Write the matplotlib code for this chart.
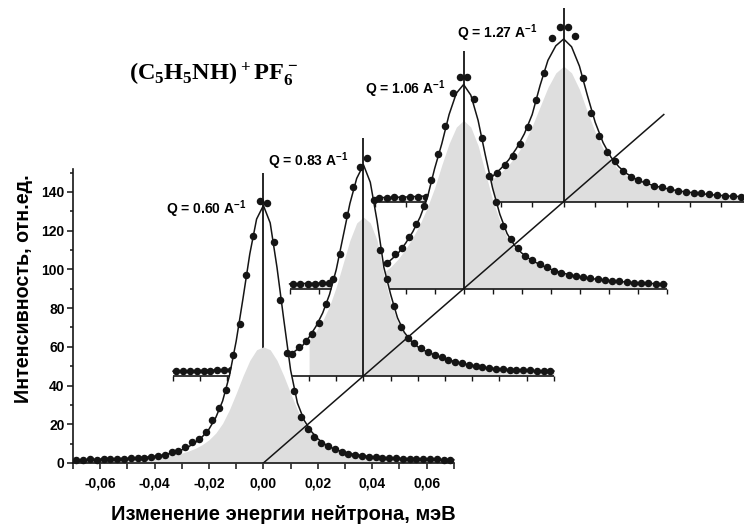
# Quasi-elastic neutron spectra of (C5H5NH)+PF6- drawn as a pseudo-3D stack
import numpy as np
import matplotlib.pyplot as plt
from matplotlib.markers import TICKDOWN

# Q values of the four spectra, front to back
q_values = ['0.60', '0.83', '1.06', '1.27']

# energy of the measured channels and of the fitted curves, meV
channels = np.linspace(-0.06875, 0.06875, 56)
fit_energy = np.linspace(-0.07, 0.07, 57)

# energy range of each spectrum and first energy of its grey (broad) part
spans = [(-0.07, 0.07), (-0.07, 0.07), (-0.06, 0.07), (-0.06, 0.06)]
broad_start = [-0.07, -0.02, -0.06, -0.06]

# measured points
counts_060 = [1.8, 1.6, 1.9, 1.7, 2.0, 1.9, 2.2, 2.0, 2.5, 2.4, 2.8, 3.0, 3.6, 4.2,
              5.5, 6.3, 8.4, 10.8, 12.5, 15.8, 22.0, 28.5, 37.5, 56, 72, 97, 117, 135.5,
              134.5, 114, 84, 57, 37, 24, 17.5, 13.5, 10.5, 8.6, 7.0, 5.8, 4.8, 4.2,
              3.7, 3.3, 3.1, 2.8, 2.6, 2.5, 2.3, 2.2, 2.1, 2.0, 1.9, 1.9, 1.8, 1.7]
counts_083 = [2.5, 2.3, 2.6, 2.4, 2.7, 2.5, 2.9, 3.0, 3.2, 3.5, 3.8, 4.2, 4.7, 5.4,
              6.3, 7.5, 9.0, 11.2, 15.0, 18.0, 21.5, 27.5, 37, 50, 63, 83, 97.5, 108,
              112.5, 91, 65, 50, 36, 25.5, 19.5, 16.8, 14.2, 12.4, 11.0, 9.6, 8.4, 7.4,
              6.5, 5.7, 5.1, 4.7, 4.3, 3.8, 3.4, 3.2, 3.0, 2.9, 2.8, 2.7, 2.6, 2.5]
counts_106 = [2.6, 2.4, 2.7, 2.5, 2.8, 2.9, 3.2, 3.6, 4.1, 4.8, 5.8, 7.2, 9.5, 13.5,
              18, 21, 26.5, 33.5, 42.5, 56, 69.5, 84, 101, 109.5,
              109.5, 98, 78, 58, 45, 32.5, 25.5, 20.8, 17, 14.6, 12.8, 11, 9.4, 8.3,
              7.2, 6.5, 6.0, 5.4, 5.0, 4.6, 4.1, 3.8, 3.5, 3.2, 3.0, 2.8, 2.7, 2.5]
counts_127 = [2.1, 2.0, 2.3, 2.1, 2.2, 2.4, 2.5, 2.8, 3.2, 3.8, 4.6, 5.7, 7.2, 9.5,
              12.4, 14.8, 19, 23.5, 30, 38.5, 52.5, 66.5, 84.5, 90,
              90, 85.5, 64, 46, 34, 25.5, 20.8, 16, 12.8, 11.2, 10.2, 8.3, 7.4, 6.6,
              5.7, 5.2, 4.6, 4.3, 4.0, 3.4, 2.9, 2.8, 2.6, 2.4]

# fitted curves
fit_060 = [1.6, 1.7, 1.8, 1.9, 2.0, 2.1, 2.2, 2.3, 2.4, 2.6, 2.8, 3.1, 3.5, 4.0, 4.7,
           5.6, 6.8, 8.4, 10.6, 13.5, 17.5, 23.5, 32, 45, 63, 85, 108, 126, 133,
           124, 101, 74, 48, 31, 22, 16.5, 12.5, 9.8, 7.9, 6.5, 5.5, 4.7, 4.1, 3.6,
           3.3, 3.0, 2.8, 2.6, 2.4, 2.3, 2.2, 2.1, 2.0, 1.9, 1.8, 1.7, 1.7]
fit_083 = [2.4, 2.5, 2.6, 2.7, 2.8, 2.9, 3.0, 3.1, 3.3, 3.5, 3.8, 4.1, 4.5, 5.0, 5.7,
           6.6, 7.8, 10, 13, 15.5, 20, 25.5, 32.5, 42, 55, 72, 89, 102, 109,
           100, 80, 56, 42, 30, 22.5, 18, 15, 13, 11.5, 10, 8.9, 7.8, 6.9, 6.1,
           5.4, 4.8, 4.3, 3.9, 3.6, 3.3, 3.1, 2.9, 2.8, 2.7, 2.6, 2.5, 2.5]
fit_106 = [2.5, 2.6, 2.7, 2.8, 2.9, 3.1, 3.3, 3.5, 3.9, 4.4, 5.1, 6.1, 7.6, 12, 15,
           18.5, 23.5, 29.5, 37, 47, 62, 75, 90, 101, 105.5,
           100, 87, 69, 52, 38.5, 28.5, 22.5, 18.5, 15.7, 13.5, 11.6, 10.1, 8.9, 7.8,
           6.9, 6.2, 5.6, 5.1, 4.6, 4.2, 3.9, 3.6, 3.3, 3.1, 2.9, 2.7, 2.6, 2.5]
fit_127 = [2.0, 2.1, 2.2, 2.3, 2.4, 2.6, 2.8, 3.1, 3.4, 3.9, 4.5, 5.3, 6.4, 8.0, 10.2,
           13.2, 17, 21.5, 27.5, 35, 45, 60, 73, 80.5, 84,
           80, 70, 55, 41, 30.5, 23, 18, 14.5, 12, 10.2, 8.8, 7.7, 6.8, 6.0,
           5.3, 4.8, 4.3, 3.9, 3.5, 3.2, 2.9, 2.7, 2.5, 2.3]

# broad (quasi-elastic) component, grey area
broad_060 = [0.8, 0.9, 1.0, 1.1, 1.2, 1.3, 1.4, 1.5, 1.7, 1.9, 2.1, 2.4, 2.7, 3.1, 3.6,
             4.3, 5.1, 6.2, 7.6, 9.5, 12, 15.5, 20.5, 27.5, 36, 45, 53, 58.5, 60,
             58.5, 53, 45, 36, 27.5, 20.5, 15.5, 12, 9.5, 7.6, 6.2, 5.1, 4.3, 3.6, 3.1,
             2.7, 2.4, 2.1, 1.9, 1.7, 1.5, 1.4, 1.3, 1.2, 1.1, 1.0, 0.9, 0.8]
broad_083 = [18.5, 23, 28.5, 36, 46, 58, 70, 79, 82,
             79, 70, 52, 38, 28, 22, 17.5, 14.7, 12.8, 11.3, 9.9, 8.8, 7.7, 6.8, 6.0,
             5.3, 4.7, 4.2, 3.8, 3.5, 3.2, 3.0, 2.8, 2.7, 2.6, 2.5, 2.4, 2.4]
broad_106 = [2.0, 2.1, 2.2, 2.3, 2.4, 2.6, 2.8, 3.0, 3.3, 3.7, 4.3, 5.1, 6.3, 8.5, 11.5,
             15.5, 20.5, 26.5, 33.5, 42, 52, 64, 75, 83.5, 87,
             83.5, 74, 60, 46, 35, 26.5, 21, 17.5, 15, 13, 11.2, 9.8, 8.6, 7.6,
             6.7, 6.0, 5.4, 4.9, 4.4, 4.0, 3.7, 3.4, 3.1, 2.9, 2.7, 2.5, 2.4, 2.3]
broad_127 = [1.6, 1.7, 1.8, 1.9, 2.0, 2.2, 2.4, 2.6, 2.9, 3.3, 3.8, 4.5, 5.5, 7, 9,
             11.8, 15, 19, 24, 30.5, 39, 49, 59, 66.5, 70,
             66.5, 58, 46.5, 36, 27.5, 21, 16.5, 13.5, 11.3, 9.6, 8.3, 7.3, 6.4, 5.7,
             5.0, 4.5, 4.0, 3.6, 3.3, 3.0, 2.7, 2.5, 2.3, 2.1]

counts = [counts_060, counts_083, counts_106, counts_127]
fits = [fit_060, fit_083, fit_106, fit_127]
broads = [broad_060, broad_083, broad_106, broad_127]

# height of the vertical marker line of each spectrum
marker_top = [150, 123, 123, 100]

# axis ticks
x_major = [-0.06, -0.04, -0.02, 0.00, 0.02, 0.04, 0.06]
x_minor = [-0.07, -0.05, -0.03, -0.01, 0.01, 0.03, 0.05, 0.07]
y_major = [0, 20, 40, 60, 80, 100, 120, 140]
y_minor = [10, 30, 50, 70, 90, 110, 130, 150]

# layout of the stack: shift of each next spectrum and its x stretch
step_x, step_y = 0.0368, 45.0
stretch = [1.0, 1.0, 1.066, 1.158]
# label anchors in each spectrum's own coordinates (right end, middle)
label_pos = [(-0.0064, 131), (-0.0055, 111), (-0.0062, 103), (-0.0083, 87)]

plt.rcParams['font.family'] = ['Liberation Sans', 'DejaVu Sans']
plt.rcParams['font.weight'] = 'bold'
plt.rcParams['mathtext.fontset'] = 'custom'
plt.rcParams['mathtext.bf'] = 'Liberation Serif:bold'
plt.rcParams['mathtext.rm'] = 'Liberation Serif:bold'
plt.rcParams['mathtext.sf'] = 'Liberation Sans:bold'

ink = '#151515'
grey = '#dedede'

fig = plt.figure(figsize=(7.44, 5.28), dpi=100)
ax = fig.add_axes([73 / 744, 65 / 528, 671 / 744, 463 / 528])
ax.set_xlim(-0.07, -0.07 + 671 / 2720)
ax.set_ylim(0, 463 / 1.936)
ax.patch.set_alpha(0)


def in_span(x, lo, hi):
    return (x >= lo - 1e-9) & (x <= hi + 1e-9)


for k in range(4):
    lo, hi = spans[k]
    x0, y0, s = k * step_x, k * step_y, stretch[k]
    z = 40 - 10 * k

    ce = channels[in_span(channels, lo, hi)]
    fe = fit_energy[in_span(fit_energy, lo, hi)]
    be = fit_energy[in_span(fit_energy, broad_start[k], hi)]
    cy = np.array(counts[k])
    fy = np.array(fits[k])
    by = np.array(broads[k])

    # white mask hides the spectra behind this one
    ax.fill_between(x0 + s * fe, y0, y0 + fy, color='white', lw=0, zorder=z)
    # vertical line at zero energy
    ax.plot([x0, x0], [y0, y0 + marker_top[k]], color=ink, lw=1.3,
            zorder=z + (0.5 if k == 0 else 2), solid_capstyle='butt')
    # grey broad component
    ax.fill_between(x0 + s * be, y0, y0 + by, color=grey, lw=0, zorder=z + 1)
    # baseline of the back spectra with its own ticks
    if k > 0:
        ax.plot([x0 + s * lo, x0 + s * hi], [y0, y0], color=ink, lw=1.2,
                zorder=z + 1.5, solid_capstyle='butt')
        tx = np.arange(lo, hi + 1e-9, 0.01)
        ax.plot(x0 + s * tx, np.full(len(tx), y0), ls='none', marker=TICKDOWN,
                ms=3.8, mew=1.0, color=ink, zorder=z + 1.5)
    ax.plot(x0 + s * fe, y0 + fy, color=ink, lw=1.1, zorder=z + 3)
    ax.plot(x0 + s * ce, y0 + cy, ls='none', marker='o', ms=4.4, color=ink,
            zorder=z + 4, clip_on=False)

    lx, ly = label_pos[k]
    ax.text(x0 + s * lx, y0 + ly, 'Q = ' + q_values[k] + r' A$^{\mathsf{-1}}$',
            ha='right', va='center', fontsize=10, fontweight='bold', zorder=60)

# diagonal through the zero points of all spectra
ax.plot([0, 4 * step_x], [0, 4 * step_y], color=ink, lw=1.1, zorder=80)

# front axes
for side in ['top', 'right']:
    ax.spines[side].set_visible(False)
ax.spines['bottom'].set_bounds(-0.07, 0.07)
ax.spines['left'].set_bounds(0, 152)
for side in ['bottom', 'left']:
    ax.spines[side].set_linewidth(1.2)
    ax.spines[side].set_color(ink)
    ax.spines[side].set_zorder(50)

ax.set_xticks(x_major)
ax.set_xticks(x_minor, minor=True)
ax.set_xticklabels([f'{v:.2f}'.replace('.', ',') for v in x_major])
ax.set_yticks(y_major)
ax.set_yticks(y_minor, minor=True)
ax.tick_params(axis='x', which='both', length=4, width=1.1, pad=6, labelsize=10,
               color=ink)
ax.tick_params(axis='y', which='major', length=4.5, width=1.1, pad=1.5,
               labelsize=10, color=ink)
ax.tick_params(axis='y', which='minor', length=2.5, width=1.1, color=ink)

fig.text(283 / 744, 1 - 515 / 528, 'Изменение энергии нейтрона, мэВ',
         ha='center', va='center', fontsize=14.5, fontweight='bold')
fig.text(24 / 744, 1 - 289 / 528, 'Интенсивность, отн.ед.', rotation=90,
         ha='center', va='center', fontsize=14.2, fontweight='bold')
ax.text(-0.0182, 198, r'$\mathbf{(C_5H_5NH)^+PF_6^-}$', ha='center',
        va='baseline', fontsize=17.5)

fig.savefig('out.png', dpi=100)
